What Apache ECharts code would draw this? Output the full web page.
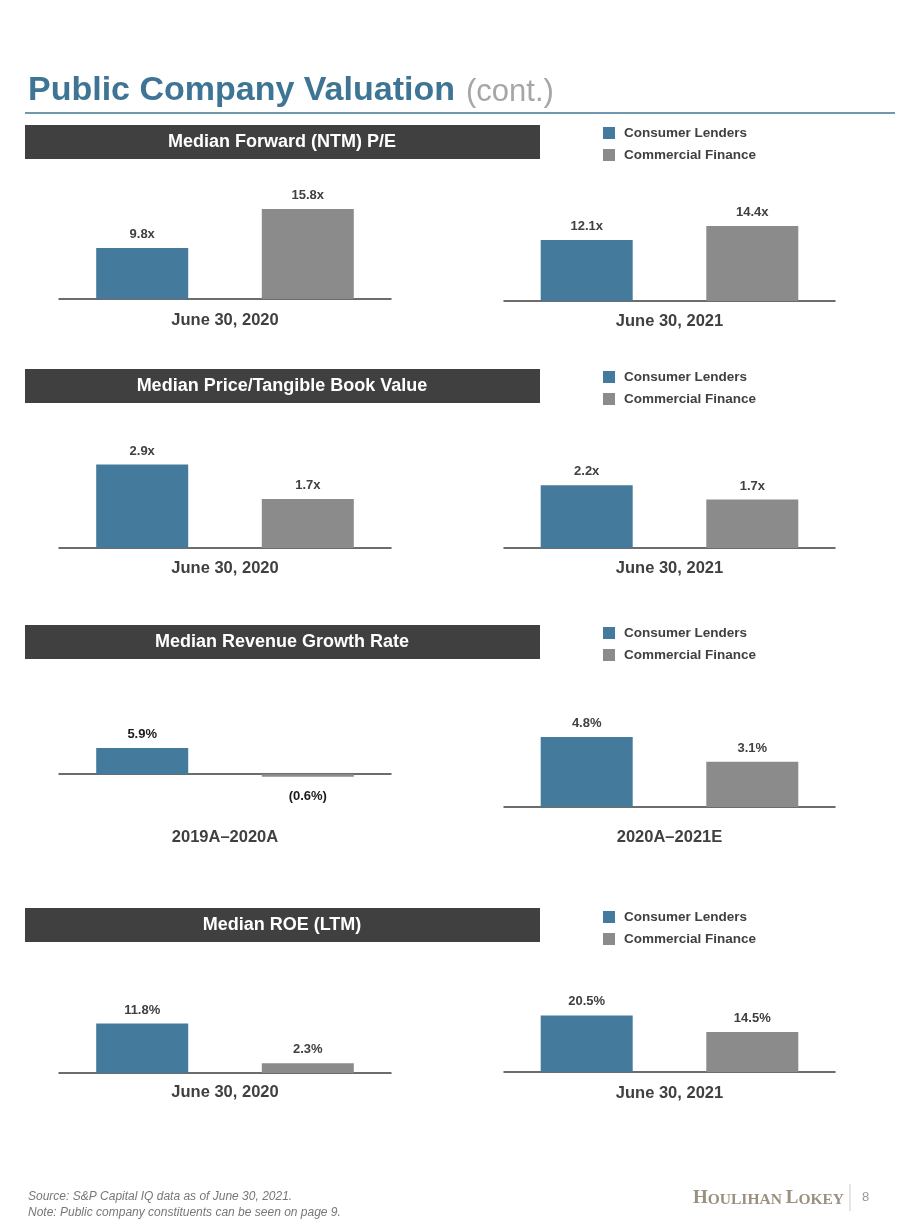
<!DOCTYPE html>
<html>
<head>
<meta charset="utf-8">
<script src="https://cdn.jsdelivr.net/npm/echarts@6/dist/echarts.min.js"></script>
<style>
  html, body { margin: 0; padding: 0; background: #ffffff; }
  #main { width: 920px; height: 1227px; }
</style>
</head>
<body>
<div id="main"></div>
<script>
// ---------- DATA ----------
const seriesNames = ['Consumer Lenders', 'Commercial Finance'];
const headers = ['Median Forward (NTM) P/E', 'Median Price/Tangible Book Value', 'Median Revenue Growth Rate', 'Median ROE (LTM)'];
const leftCategories = ['June 30, 2020', 'June 30, 2020', '2019A\u20132020A', 'June 30, 2020'];
const rightCategories = ['June 30, 2021', 'June 30, 2021', '2020A\u20132021E', 'June 30, 2021'];
const consumerLeft = [9.8, 2.9, 5.9, 11.8];
const commercialLeft = [15.8, 1.7, -0.6, 2.3];
const consumerRight = [12.1, 2.2, 4.8, 20.5];
const commercialRight = [14.4, 1.7, 3.1, 14.5];
const units = ['x', 'x', '%', '%'];

// ---------- LAYOUT / STYLE ----------
const FONT = 'Liberation Sans, Arial, Helvetica, sans-serif';
const SERIF = 'Liberation Serif, DejaVu Serif, serif';
const BLUE = '#447a9b';
const GRAY = '#8b8b8b';
const DARK = '#404040';
const rowHeaderTop = [125, 369, 625, 908];
const rowLegendTop = [126, 370, 626, 910];
const leftAxisY = [299, 548, 774, 1073];
const rightAxisY = [301, 548, 807, 1072];
const leftScale = [{min: 2, max: 18, k: 6.53}, {min: 0, max: 3.5, k: 28.8}, {min: -2, max: 8, k: 4.4}, {min: 0, max: 16, k: 4.2}];
const rightScale = [{min: 2, max: 18, k: 6.05}, {min: 0, max: 3.5, k: 28.5}, {min: 0, max: 6, k: 14.6}, {min: 0, max: 25, k: 2.76}];
const leftLabelMargin = [13, 12, 46, 11];
const rightLabelMargin = [12, 12, 22, 13];
const leftLabelColor = [DARK, DARK, '#1a1a1a', DARK];

function fmt(v, u) {
  const s = Math.abs(v).toFixed(1) + u;
  return v < 0 ? '(' + s + ')' : s;
}

const grids = [], xAxes = [], yAxes = [], series = [], legends = [], graphics = [];

function addPanel(row, cat, vals, axisY, sc, x, w, margin, lblColor) {
  const idx = grids.length;
  let top, bottom;
  if (sc.min >= 0) { bottom = axisY; top = axisY - (sc.max - sc.min) * sc.k; }
  else { top = axisY - sc.max * sc.k; bottom = axisY - sc.min * sc.k; }
  grids.push({ left: x, width: w, top: top, height: bottom - top, containLabel: false });
  xAxes.push({
    type: 'category', gridIndex: idx, data: [cat],
    axisTick: { show: false },
    axisLine: { onZero: true, lineStyle: { color: '#3c3c3c', width: 1.5 } },
    axisLabel: { margin: margin, fontFamily: FONT, fontWeight: 'bold', fontSize: 16.5, color: DARK }
  });
  yAxes.push({ type: 'value', gridIndex: idx, min: sc.min, max: sc.max, show: false, splitLine: { show: false } });
  vals.forEach(function (v, i) {
    series.push({
      type: 'bar', name: seriesNames[i], xAxisIndex: idx, yAxisIndex: idx,
      barWidth: 92, barGap: '80%', clip: true,
      itemStyle: { color: i === 0 ? BLUE : GRAY },
      label: {
        show: true, distance: 7, fontFamily: FONT, fontWeight: 'bold', fontSize: 13, color: lblColor,
        formatter: function (p) { return fmt(p.value, units[row]); }
      },
      data: [{ value: v, label: { position: v < 0 ? 'bottom' : 'top', distance: v < 0 ? 13 : 7 } }]
    });
  });
}

for (let r = 0; r < 4; r++) {
  addPanel(r, leftCategories[r], [consumerLeft[r], commercialLeft[r]], leftAxisY[r], leftScale[r], 59, 332, leftLabelMargin[r], leftLabelColor[r]);
  addPanel(r, rightCategories[r], [consumerRight[r], commercialRight[r]], rightAxisY[r], rightScale[r], 504, 331, rightLabelMargin[r], DARK);

  legends.push({
    data: seriesNames, orient: 'vertical', left: 603, top: rowLegendTop[r],
    itemWidth: 12, itemHeight: 12, itemGap: 8, icon: 'rect', selectedMode: false,
    padding: 0,
    textStyle: { fontFamily: FONT, fontWeight: 'bold', fontSize: 13.5, color: DARK, padding: [0, 0, 0, 4] }
  });

  graphics.push({
    type: 'rect', left: 25, top: rowHeaderTop[r], shape: { width: 515, height: 34 },
    style: { fill: '#404040' }, silent: true
  });
  graphics.push({
    type: 'text', x: 282, y: rowHeaderTop[r] + 17,
    style: { text: headers[r], fill: '#ffffff', font: 'bold 18px ' + FONT, textAlign: 'center', textVerticalAlign: 'middle' },
    silent: true
  });
}

// title, rule, footer
graphics.push({
  type: 'text', x: 28, y: 91,
  style: { text: 'Public Company Valuation', fill: '#3f7594', font: 'bold 34px ' + FONT, textAlign: 'left', textVerticalAlign: 'middle' }
});
graphics.push({
  type: 'text', x: 466, y: 92,
  style: { text: '(cont.)', fill: '#a6a6a6', font: '31px ' + FONT, textAlign: 'left', textVerticalAlign: 'middle' }
});
graphics.push({
  type: 'line', shape: { x1: 25, y1: 113, x2: 895, y2: 113 },
  style: { stroke: '#3f7594', lineWidth: 1.5 }
});
graphics.push({
  type: 'text', x: 28, y: 1197,
  style: { text: 'Source: S&P Capital IQ data as of June 30, 2021.', fill: '#777777', font: 'italic 12px ' + FONT, textAlign: 'left', textVerticalAlign: 'middle' }
});
graphics.push({
  type: 'text', x: 28, y: 1213,
  style: { text: 'Note: Public company constituents can be seen on page 9.', fill: '#777777', font: 'italic 12px ' + FONT, textAlign: 'left', textVerticalAlign: 'middle' }
});
graphics.push({
  type: 'text', x: 693, y: 1198,
  style: {
    text: '{b|H}{s|OULIHAN }{b|L}{s|OKEY}', textAlign: 'left', textVerticalAlign: 'middle',
    rich: {
      b: { fontFamily: SERIF, fontWeight: 'bold', fontSize: 19, fill: '#9b9080', verticalAlign: 'bottom' },
      s: { fontFamily: SERIF, fontWeight: 'bold', fontSize: 15.5, fill: '#9b9080', verticalAlign: 'bottom' }
    }
  }
});
graphics.push({
  type: 'line', shape: { x1: 850, y1: 1184, x2: 850, y2: 1211 },
  style: { stroke: '#cccccc', lineWidth: 1 }
});
graphics.push({
  type: 'text', x: 862, y: 1197,
  style: { text: '8', fill: '#999999', font: '13px ' + FONT, textAlign: 'left', textVerticalAlign: 'middle' }
});

const chart = echarts.init(document.getElementById('main'), null, { renderer: 'canvas' });
chart.setOption({
  backgroundColor: '#ffffff',
  animation: false,
  textStyle: { fontFamily: FONT },
  grid: grids,
  xAxis: xAxes,
  yAxis: yAxes,
  legend: legends,
  series: series,
  graphic: graphics
});
</script>
</body>
</html>
